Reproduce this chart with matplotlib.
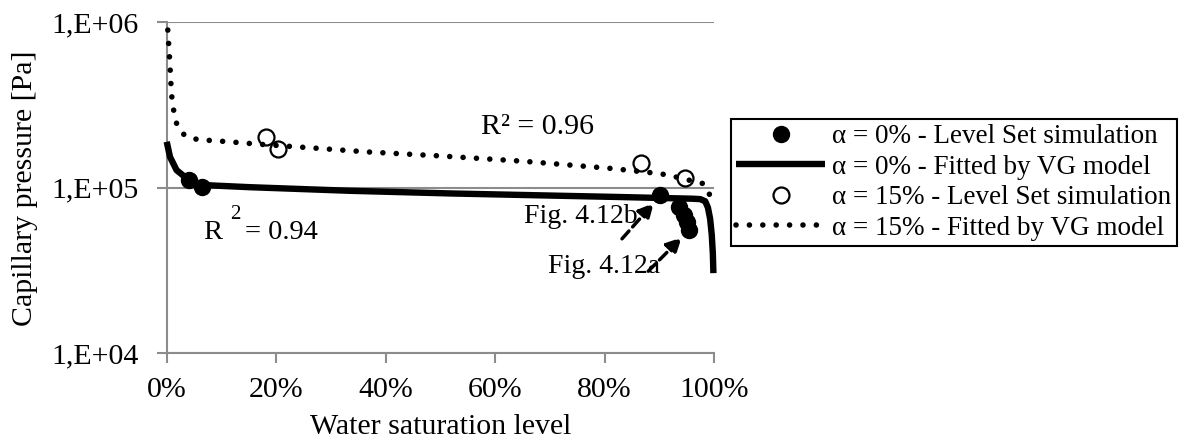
import numpy as np
import matplotlib
matplotlib.use("Agg")
import matplotlib.pyplot as plt
from matplotlib.ticker import FixedLocator, NullLocator, PercentFormatter

plt.rcParams["font.family"] = ["Liberation Serif", "DejaVu Serif"]

# Level Set simulation results (water saturation [-], capillary pressure [Pa])
sat_a0 = [0.041, 0.065, 0.902, 0.937, 0.946, 0.951, 0.955]
pc_a0 = [1.11e5, 1.01e5, 9.0e4, 7.7e4, 6.9e4, 6.2e4, 5.6e4]

sat_a15 = [0.181, 0.203, 0.867, 0.948]
pc_a15 = [2.04e5, 1.71e5, 1.41e5, 1.14e5]

# Van Genuchten fitted curves
fit_sat_a0 = [0.0, 0.006, 0.018, 0.041, 0.067, 0.15, 0.335, 0.52, 0.83,
              0.96, 0.975, 0.984, 0.989, 0.993, 0.996, 0.998, 0.999]
fit_pc_a0 = [1.9e5, 1.54e5, 1.28e5, 1.11e5, 1.04e5, 1.01e5, 9.6e4, 9.25e4, 8.8e4,
             8.6e4, 8.55e4, 8.3e4, 7.6e4, 6.5e4, 5.2e4, 4.0e4, 3.05e4]

fit_sat_a15 = [0.002, 0.0055, 0.008, 0.0097, 0.0134, 0.019, 0.033, 0.056, 0.104,
               0.175, 0.27, 0.366, 0.5, 0.65, 0.813, 0.89, 0.914, 0.981, 0.992]
fit_pc_a15 = [9.0e5, 5.9e5, 4.1e5, 3.43e5, 2.85e5, 2.38e5, 2.07e5, 1.96e5, 1.91e5,
              1.83e5, 1.74e5, 1.65e5, 1.56e5, 1.45e5, 1.31e5, 1.23e5, 1.2e5, 1.06e5, 9.1e4]

y_ticks = [1e4, 1e5, 1e6]
y_tick_labels = ["1,E+04", "1,E+05", "1,E+06"]
x_ticks = [0.0, 0.2, 0.4, 0.6, 0.8, 1.0]

legend_labels = [
    "α = 0% - Level Set simulation",
    "α = 0% - Fitted by VG model",
    "α = 15% - Level Set simulation",
    "α = 15% - Fitted by VG model",
]

GRID = "#8c8c8c"
FS = 21.5
FS_NOTE = 20.5

fig = plt.figure(figsize=(11.84, 4.41), dpi=100)
ax = fig.add_axes([0.1408, 0.199, 0.4622, 0.750])

ax.set_yscale("log")
ax.set_xlim(0, 1)
ax.set_ylim(1e4, 1e6)

ax.yaxis.set_major_locator(FixedLocator(y_ticks))
ax.yaxis.set_minor_locator(NullLocator())
ax.set_yticklabels(y_tick_labels)
ax.xaxis.set_major_locator(FixedLocator(x_ticks))
ax.xaxis.set_major_formatter(PercentFormatter(xmax=1, decimals=0))

for s in ("top", "right"):
    ax.spines[s].set_visible(False)
for s in ("left", "bottom"):
    ax.spines[s].set_color(GRID)
    ax.spines[s].set_linewidth(1.5)
ax.tick_params(axis="both", direction="out", length=7, width=1.5, color=GRID,
               labelsize=FS)
ax.tick_params(axis="y", pad=13)
ax.tick_params(axis="x", pad=10)
ax.grid(axis="y", color=GRID, linewidth=1.5)
ax.set_axisbelow(True)

ax.set_xlabel("Water saturation level", fontsize=FS, labelpad=8)
ax.set_ylabel("Capillary pressure [Pa]", fontsize=FS, labelpad=10)

h_fit15, = ax.plot(fit_sat_a15, fit_pc_a15, color="black", linewidth=4.0,
                   linestyle=(0, (0.01, 2.4)), dash_capstyle="round",
                   clip_on=False, zorder=3)
h_fit0, = ax.plot(fit_sat_a0, fit_pc_a0, color="black", linewidth=4.6,
                  solid_capstyle="butt", clip_on=False, zorder=3)
h_sim0, = ax.plot(sat_a0, pc_a0, linestyle="none", marker="o", markersize=11.5,
                  color="black", zorder=4, clip_on=False)
h_sim15, = ax.plot(sat_a15, pc_a15, linestyle="none", marker="o", markersize=11.5,
                   markerfacecolor="none", markeredgecolor="black",
                   markeredgewidth=1.6, zorder=4, clip_on=False)

# fit quality labels
ax.text(0.677, 0.685, "R² = 0.96", transform=ax.transAxes, fontsize=FS,
        ha="center", va="center")
ax.text(0.066, 0.364, "R", transform=ax.transAxes, fontsize=FS_NOTE,
        ha="left", va="center")
ax.text(0.126, 0.418, "2", transform=ax.transAxes, fontsize=15,
        ha="center", va="center")
ax.text(0.143, 0.364, "= 0.94", transform=ax.transAxes, fontsize=FS_NOTE,
        ha="left", va="center")

# figure references
ax.text(0.653, 0.412, "Fig. 4.12b", transform=ax.transAxes, fontsize=20,
        ha="left", va="center")
ax.text(0.697, 0.262, "Fig. 4.12a", transform=ax.transAxes, fontsize=20,
        ha="left", va="center")
arrow_kw = dict(arrowstyle="-|>,head_length=0.9,head_width=0.45", color="black",
                linewidth=2.5, linestyle=(0, (3, 1.6)), shrinkA=0, shrinkB=0)
ax.annotate("", xy=(0.890, 0.454), xytext=(0.832, 0.346),
            xycoords="axes fraction", textcoords="axes fraction",
            arrowprops=arrow_kw)
ax.annotate("", xy=(0.941, 0.350), xytext=(0.880, 0.248),
            xycoords="axes fraction", textcoords="axes fraction",
            arrowprops=arrow_kw)

leg = fig.legend([h_sim0, h_fit0, h_sim15, h_fit15], legend_labels,
                 loc="upper left", bbox_to_anchor=(0.617, 0.730),
                 fontsize=19.5, frameon=True, fancybox=False, edgecolor="black",
                 framealpha=1, handlelength=3.3, handletextpad=0.25,
                 labelspacing=0.2, borderpad=0.2, borderaxespad=0)
leg.get_frame().set_linewidth(1.5)

fig.savefig("out.png", dpi=100)
